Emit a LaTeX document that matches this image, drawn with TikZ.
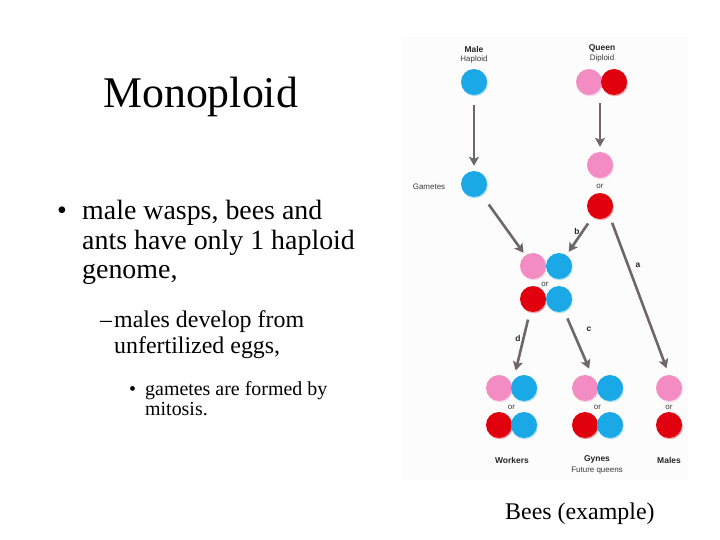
\documentclass[tikz,border=0pt]{standalone}
\usepackage{fontspec}
\setmainfont{Liberation Serif}
\newfontfamily\labelfont{Liberation Sans}
\usetikzlibrary{
  arrows.meta,
  positioning,
  calc
}
\definecolor{beeBlue}{HTML}{1AA9E6}
\definecolor{beePink}{HTML}{F28CC2}
\definecolor{beeRed}{HTML}{E0000E}
\definecolor{beeArrow}{HTML}{6E676A}
\definecolor{beeText}{HTML}{3A3A3A}
\definecolor{beePanel}{HTML}{FCFCFC}
\tikzset{
  ball/.style={
    circle, minimum size=26bp, inner sep=0pt, fill=#1,
    preaction={fill=#1!35, transform canvas={shift={(0.8bp,-1.3bp)}}}
  },
  blueball/.style={ball=beeBlue},
  pinkball/.style={ball=beePink},
  redball/.style={ball=beeRed},
  arr/.style={-{Stealth[length=9bp, width=10bp, inset=2bp]}, line width=2.6bp, beeArrow},
  tiny/.style={font=\labelfont\fontsize{8}{9}\selectfont, text=beeText, inner sep=0pt},
  tinyb/.style={tiny, font=\labelfont\bfseries\fontsize{8.5}{9}\selectfont, text=black!85},
  title/.style={font=\fontsize{44}{44}\selectfont, anchor=base west, inner sep=0pt},
  bodyA/.style={font=\fontsize{28}{28}\selectfont, anchor=base west, inner sep=0pt},
  bodyB/.style={font=\fontsize{24}{24}\selectfont, anchor=base west, inner sep=0pt},
  bodyC/.style={font=\fontsize{20}{20}\selectfont, anchor=base west, inner sep=0pt}
}
\begin{document}
\begin{tikzpicture}[x=1bp, y=-1bp]
  \fill[white] (0,0) rectangle (720,540);
  \useasboundingbox (0,0) rectangle (720,540);
  % slide text
  \node[title] (ttl) at (103,108) {Monoploid};
  \node[bodyA] (bA) at (57,220) {•};
  \node[bodyA] (tA1) at (82,220) {male wasps, bees and};
  \node[bodyA] (tA2) at (82,250) {ants have only 1 haploid};
  \node[bodyA] (tA3) at (82,279) {genome,};
  \node[bodyB] (bB) at (100,327) {–};
  \node[bodyB] (tB1) at (114,327) {males develop from};
  \node[bodyB] (tB2) at (114,353) {unfertilized eggs,};
  \node[bodyC] (bC) at (129,395) {•};
  \node[bodyC] (tC1) at (145,395) {gametes are formed by};
  \node[bodyC] (tC2) at (145,415) {mitosis.};
  \node[bodyB] (cap) at (505,519) {Bees (example)};
  % figure panel
  \fill[beePanel] (402,37) rectangle (688,480);
  % parents
  \node[tinyb] (lmale) at (474,49) {Male};
  \node[tiny] (lhap) at (474,59) {Haploid};
  \node[tinyb] (lqueen) at (602,48) {Queen};
  \node[tiny] (ldip) at (602,58) {Diploid};
  \node[blueball] (male) at (474,82) {};
  \node[pinkball] (qp) at (589,82) {};
  \node[redball] (qr) at (614,82) {};
  \coordinate (queen) at (600,82);
  % gametes
  \node[tiny] (lgam) at (429,187) {Gametes};
  \node[blueball] (mg) at (474,184) {};
  \node[pinkball] (qgp) at (600,165) {};
  \node[tiny] (or1) at (600,186) {or};
  \node[redball] (qgr) at (600,206) {};
  % fertilized
  \node[pinkball] (mp) at (533,266) {};
  \node[blueball] (mb) at (559,266) {};
  \node[tiny] (or2) at (545,284) {or};
  \node[redball] (mr) at (533,299) {};
  \node[blueball] (mb2) at (559,299) {};
  % offspring
  \foreach \x/\n in {499/w,585/g}{
    \node[pinkball] (\n p) at (\x,388) {};
    \node[blueball] (\n b) at (\x+25,388) {};
    \node[tiny] (\n or) at (\x+12.5,407) {or};
    \node[redball] (\n r) at (\x,425) {};
    \node[blueball] (\n b2) at (\x+25,425) {};
  }
  \coordinate (wk) at (511.5,388);
  \coordinate (gy) at (597.5,388);
  \node[pinkball] (xp) at (669,388) {};
  \node[tiny] (xor) at (669,407) {or};
  \node[redball] (xr) at (669,425) {};
  \node[tinyb] (lwork) at (512,460) {Workers};
  \node[tinyb] (lgyn) at (597,459) {Gynes};
  \node[tiny] (lfut) at (597,471) {Future queens};
  \node[tinyb] (lmales) at (669,460) {Males};
  % arrows
  \draw[arr, shorten <=10bp, shorten >=5bp] (male) -- (mg);
  \draw[arr, shorten <=21bp, shorten >=5bp] (queen) -- (qgp);
  \draw[arr, shorten <=12bp, shorten >=3bp] (mg) -- (mp);
  \draw[arr, shorten <=8bp, shorten >=4bp] (qgr) -- (mb);
  \draw[arr, shorten <=8bp, shorten >=7bp] (qgr.-45) -- (xp.north);
  \draw[arr, shorten <=8bp, shorten >=18bp] (mr) -- (wk);
  \draw[arr, shorten <=8bp, shorten >=21bp] (mb2) -- (gy);
  \node[tinyb] (la) at (638,265) {a};
  \node[tinyb] (lb) at (577,231) {b};
  \node[tinyb] (lc) at (589,329) {c};
  \node[tinyb] (ld) at (518,338) {d};
\end{tikzpicture}
\end{document}
